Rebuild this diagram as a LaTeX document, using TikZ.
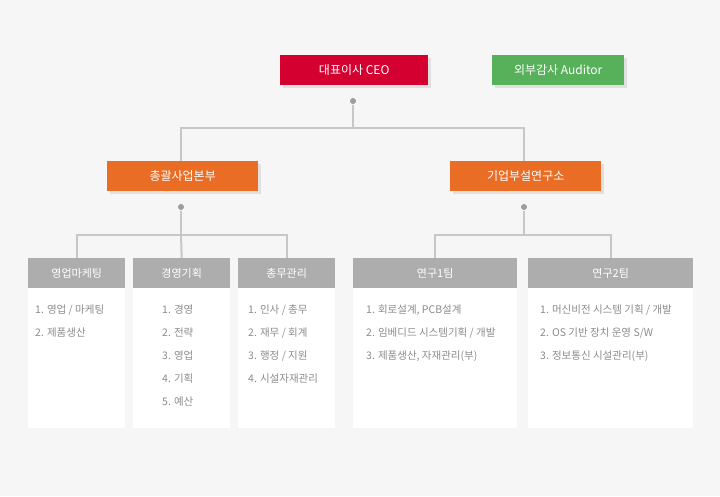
\documentclass[tikz,border=0pt]{standalone}
\usepackage{fontspec}
\setmainfont{Noto Sans CJK KR}
\newfontfamily\boldkr{Noto Sans CJK KR Bold}
\begin{document}
\begin{tikzpicture}[x=1pt,y=-1pt,
  lvl0/.style={minimum height=30pt,text=white,font=\fontsize{12}{14}\selectfont,inner sep=0pt,anchor=north west},
  hdr/.style={fill=black!32,minimum height=30pt,text=white,font=\fontsize{11}{13}\selectfont,inner sep=0pt,anchor=north west},
  item/.style={anchor=west,text=black!45,font=\fontsize{10.5}{12}\selectfont,inner sep=0pt},
  conn/.style={draw=black!22,line width=2pt},
  dot/.style={circle,fill=black!38,draw=white,line width=0.6pt,minimum size=7pt,inner sep=0pt}]
\definecolor{bg}{HTML}{F6F6F6}
\definecolor{ceo}{HTML}{D4002F}
\definecolor{aud}{HTML}{57B15A}
\definecolor{org}{HTML}{E96D24}
\fill[bg] (0,0) rectangle (720,496);
\useasboundingbox (0,0) rectangle (720,496);
% shadows
\foreach \a/\b/\c/\d in {280/55/428/85,492/55/624/85,107/161/258/191,450/161/601/191}
  \fill[black!12] (\a+3,\b+3) rectangle (\c+3,\d+3);
\node[lvl0,fill=ceo,minimum width=148pt] (ceo) at (280,55) {대표이사 CEO};
\node[lvl0,fill=aud,minimum width=132pt] (aud) at (492,55) {외부감사 Auditor};
\node[lvl0,fill=org,minimum width=151pt] (d1) at (107,161) {총괄사업본부};
\node[lvl0,fill=org,minimum width=151pt] (d2) at (450,161) {기업부설연구소};
% bodies
\foreach \a/\w in {28/97,133/97,238/97,353/164,528/165}
  \fill[white] (\a,258) rectangle (\a+\w,428);
\node[hdr,minimum width=97pt] (t1) at (28,258) {영업마케팅};
\node[hdr,minimum width=97pt] (t2) at (133,258) {경영기획};
\node[hdr,minimum width=97pt] (t3) at (238,258) {총무관리};
\node[hdr,minimum width=164pt] (t4) at (353,258) {연구1팀};
\node[hdr,minimum width=165pt] (t5) at (528,258) {연구2팀};
% connectors
\coordinate (j0) at (353,128);
\coordinate (j1) at (181,235);
\coordinate (j2) at (524,235);
\draw[conn] (353,101) -- (j0);
\draw[conn] (181,161) |- (j0) -| (524,161);
\draw[conn] (181,207) -- (j1);
\draw[conn] (t1.north) |- (j1) -| (t3.north);
\draw[conn] (j1) -- (t2.north);
\draw[conn] (524,207) -- (j2);
\draw[conn] (t4.north) |- (j2) -| (t5.north);
\node[dot] (p0) at (353,101) {};
\node[dot] (p1) at (181,207) {};
\node[dot] (p2) at (524,207) {};
% items
\node[item] (a1) at (35,310) {1. 영업 / 마케팅};
\node[item] (a2) at (35,333) {2. 제품생산};
\node[item] (b1) at (162,310) {1. 경영};
\node[item] (b2) at (162,333) {2. 전략};
\node[item] (b3) at (162,356) {3. 영업};
\node[item] (b4) at (162,379) {4. 기획};
\node[item] (b5) at (162,402) {5. 예산};
\node[item] (c1) at (248,310) {1. 인사 / 총무};
\node[item] (c2) at (248,333) {2. 재무 / 회계};
\node[item] (c3) at (248,356) {3. 행정 / 지원};
\node[item] (c4) at (248,379) {4. 시설자재관리};
\node[item] (d11) at (366,310) {1. 회로설계, PCB설계};
\node[item] (d12) at (366,333) {2. 임베디드 시스템기획 / 개발};
\node[item] (d13) at (366,356) {3. 제품생산, 자재관리(부)};
\node[item] (e1) at (540,310) {1. 머신비전 시스템 기획 / 개발};
\node[item] (e2) at (540,333) {2. OS 기반 장치 운영 S/W};
\node[item] (e3) at (540,356) {3. 정보통신 시설관리(부)};
\end{tikzpicture}
\end{document}
